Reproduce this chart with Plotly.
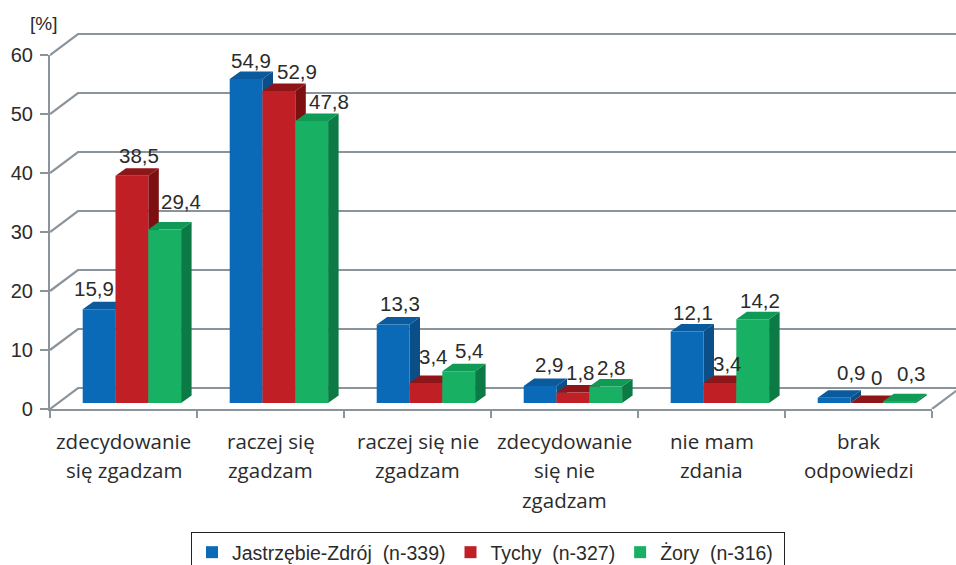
import plotly.graph_objects as go

category_lines = [
    ["zdecydowanie", "się zgadzam"],
    ["raczej się", "zgadzam"],
    ["raczej się nie", "zgadzam"],
    ["zdecydowanie", "się nie", "zgadzam"],
    ["nie mam", "zdania"],
    ["brak", "odpowiedzi"],
]
series_names = ["Jastrzębie-Zdrój  (n-339)", "Tychy  (n-327)", "Żory  (n-316)\u00a0"]
jastrzebie = [15.9, 54.9, 13.3, 2.9, 12.1, 0.9]
tychy = [38.5, 52.9, 3.4, 1.8, 3.4, 0]
zory = [29.4, 47.8, 5.4, 2.8, 14.2, 0.3]
y_ticks = [0, 10, 20, 30, 40, 50, 60]

# label nudges in pixels (series x category)
label_dx = [[-5, 5, 7, 9, 6, 17], [7, 18, 8, 8, 8, 10], [16, 17, 11, 6, 7, 12]]
label_dy = [[21, 19, 21.5, 21, 19.6, 24.7], [20, 19, 26, 20, 19, 26], [28.5, 19, 21, 18.5, 19, 28]]

series = [jastrzebie, tychy, zory]
front = ["#0a6ab8", "#c01f26", "#18b062"]
top = ["#0b5a9e", "#8f1618", "#0f9a56"]
side = ["#0a4f88", "#7c0f10", "#0b7a45"]

W, H = 956, 565
L, R, T, B = 50, 932, 55, 409
PX_X = (R - L) / 6
PX_Y = (B - T) / 60
GRID = "#8b939b"
TXT = "#2b2b2b"

wall_dx, wall_dy = 28 / PX_X, 21 / PX_Y
depth_dx, depth_dy = 10.5 / PX_X, 7.5 / PX_Y
floor = 6 / PX_Y
start = 32.7 / PX_X
bw = 32.8 / PX_X


def paper_x(px):
    return px / W


def paper_y(px):
    return (H - px) / H


fig = go.Figure()

# back wall lines and floor edge: wider subplot, same scale, drawn first
for t in y_ticks:
    fig.add_trace(go.Scatter(
        x=[0, wall_dx, 6 + wall_dx], y=[t, t + wall_dy, t + wall_dy],
        mode="lines", line=dict(color=GRID, width=2.2), showlegend=False,
        hoverinfo="skip", xaxis="x", yaxis="y"))
fig.add_trace(go.Scatter(
    x=[6, 6 + wall_dx], y=[0, wall_dy], mode="lines",
    line=dict(color=GRID, width=2.2), showlegend=False, hoverinfo="skip",
    xaxis="x", yaxis="y"))

# side and top faces, left to right
for i in range(6):
    for j, vals in enumerate(series):
        x0 = i + start + bw * j
        x1 = x0 + bw
        v = vals[i] + floor
        fig.add_trace(go.Scatter(
            x=[x1, x1 + depth_dx, x1 + depth_dx, x1, x1],
            y=[floor, floor + depth_dy, v + depth_dy, v, floor],
            mode="lines", fill="toself", fillcolor=side[j], line=dict(width=0),
            showlegend=False, hoverinfo="skip", xaxis="x2", yaxis="y2"))
        fig.add_trace(go.Scatter(
            x=[x0, x0 + depth_dx, x1 + depth_dx, x1, x0],
            y=[v, v + depth_dy, v + depth_dy, v, v],
            mode="lines", fill="toself", fillcolor=top[j], line=dict(width=0),
            showlegend=False, hoverinfo="skip", xaxis="x2", yaxis="y2"))

# front faces as real bars on an overlaying pair of axes
for j, vals in enumerate(series):
    fig.add_trace(go.Bar(
        x=[i + start + bw * (j + 0.5) for i in range(6)],
        y=vals, base=floor, width=bw, name=series_names[j],
        marker=dict(color=front[j], line=dict(width=0)),
        xaxis="x3", yaxis="y3"))

annotations = []
for j, vals in enumerate(series):
    for i, v in enumerate(vals):
        annotations.append(dict(
            x=i + start + bw * (j + 0.5), y=v + floor, xref="x3", yref="y3",
            text=f"{v}".replace(".", ","), showarrow=False,
            xshift=label_dx[j][i], yshift=label_dy[j][i], yanchor="middle",
            font=dict(family="Liberation Sans", size=20.5, color=TXT)))

# category labels, one annotation per line for the wide line spacing
for i, lines in enumerate(category_lines):
    for k, line in enumerate(lines):
        annotations.append(dict(
            x=i + 0.5, xref="x2", y=paper_y(441 + 29.5 * k), yref="paper",
            text=line, showarrow=False, yanchor="middle", xanchor="center",
            font=dict(family="Open Sans", size=20.5, color=TXT)))

annotations.append(dict(
    x=paper_x(43), y=paper_y(23), xref="paper", yref="paper",
    xanchor="center", yanchor="middle",
    text="[%]", showarrow=False, font=dict(family="Liberation Sans", size=19, color=TXT)))

fig.update_layout(
    width=W, height=H, paper_bgcolor="white", plot_bgcolor="rgba(0,0,0,0)",
    margin=dict(l=0, r=0, t=0, b=0, pad=0, autoexpand=False),
    barmode="overlay", annotations=annotations,
    font=dict(family="Liberation Sans", size=20, color=TXT),
    xaxis=dict(domain=[paper_x(L), 1], range=[0, (W - L) / PX_X], visible=False, anchor="y"),
    yaxis=dict(domain=[paper_y(B), 1], range=[0, B / PX_Y], visible=False, anchor="x"),
    xaxis2=dict(domain=[paper_x(L), paper_x(R)], anchor="y2", range=[0, 6],
                tickvals=list(range(7)), ticktext=[""] * 7, ticks="outside",
                ticklen=7, tickwidth=2.2, tickcolor=GRID, showline=True, linecolor=GRID,
                linewidth=2.2, showgrid=False, zeroline=False),
    yaxis2=dict(domain=[paper_y(B), paper_y(T)], anchor="x2", range=[0, 60], tickvals=y_ticks,
                ticks="outside", ticklen=8, tickwidth=2.2,
                tickcolor=GRID, showline=True, linecolor=GRID, linewidth=2.2, showgrid=False,
                zeroline=False, tickfont=dict(family="Liberation Sans", size=20, color=TXT),
                ticklabelstandoff=3),
    xaxis3=dict(domain=[paper_x(L), paper_x(R)], range=[0, 6], overlaying="x2", anchor="y3", visible=False),
    yaxis3=dict(domain=[paper_y(B), paper_y(T)], range=[0, 60], overlaying="y2", anchor="x3", visible=False),
    legend=dict(orientation="h", x=paper_x(191), y=paper_y(532),
                xanchor="left", yanchor="top", borderwidth=1, bordercolor="#222222",
                bgcolor="white", font=dict(family="Liberation Sans", size=19.5, color=TXT),
                itemwidth=30, traceorder="normal"),
    showlegend=True,
)

fig.write_html("out.html", config={"displayModeBar": False},
               post_script="document.body.style.margin='0';document.documentElement.style.overflow='hidden';")
